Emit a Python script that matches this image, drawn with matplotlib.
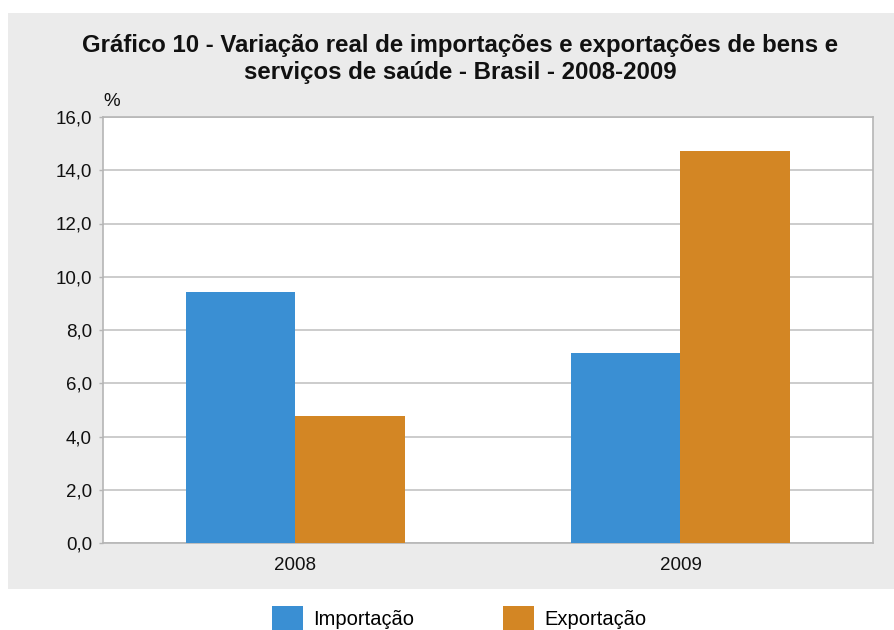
import matplotlib
matplotlib.use("Agg")
import matplotlib.pyplot as plt
from matplotlib.patches import Rectangle
import numpy as np

plt.rcParams['font.family'] = ['Liberation Sans', 'DejaVu Sans']

years = ["2008", "2009"]
importacao = [9.43, 7.14]
exportacao = [4.77, 14.74]
yticks = [0, 2, 4, 6, 8, 10, 12, 14, 16]
ytick_labels = ["0,0", "2,0", "4,0", "6,0", "8,0", "10,0", "12,0", "14,0", "16,0"]

W, H = 895, 630
fig = plt.figure(figsize=(W / 100, H / 100), dpi=100)
fig.patch.set_facecolor("white")

# gray panel
fig.patches.append(Rectangle((8 / W, 1 - 589 / H), 1 - 8 / W, (589 - 13) / H,
                             transform=fig.transFigure, facecolor="#ebebeb",
                             edgecolor="none", zorder=-5))

ax = fig.add_axes([103 / W, 1 - 543 / H, (873 - 103) / W, (543 - 117) / H])
ax.set_zorder(2)
ax.set_facecolor("white")

x = np.arange(len(years))
bw = 0.285
ax.bar(x - bw / 2, importacao, bw, color="#3a8fd3", label="Importação", zorder=3)
ax.bar(x + bw / 2, exportacao, bw, color="#d38624", label="Exportação", zorder=3)

ax.set_xlim(-0.5, 1.5)
ax.set_ylim(0, 16)
ax.set_yticks(yticks)
ax.set_yticklabels(ytick_labels, fontsize=13.5, color="#111111")
ax.set_xticks(x)
ax.set_xticklabels(years, fontsize=13.5, color="#111111")
ax.tick_params(axis="x", length=0, pad=10)
ax.tick_params(axis="y", length=3, color="#b5b5b5", width=1, pad=5)
ax.yaxis.grid(True, color="#c4c4c4", linewidth=1.2, zorder=0)
for s in ax.spines.values():
    s.set_color("#b5b5b5")
    s.set_linewidth(1.2)

fig.text(103 / W, 1 - 101 / H, "%", fontsize=13.5, ha="left", va="center", color="#111111")

fig.text(460 / W, 1 - 59 / H,
         "Gráfico 10 - Variação real de importações e exportações de bens e\nserviços de saúde - Brasil - 2008-2009",
         fontsize=17.3, fontweight="bold", ha="center", va="center", linespacing=1.25,
         color="#111111")

leg = fig.legend(loc="center", bbox_to_anchor=(459 / W, 1 - 618 / H), ncol=2,
                 frameon=False, fontsize=14.5, handlelength=1.55, handleheight=1.5,
                 columnspacing=4.4, handletextpad=0.5, borderpad=0, borderaxespad=0)

fig.savefig("out.png", dpi=100, facecolor=fig.get_facecolor())
